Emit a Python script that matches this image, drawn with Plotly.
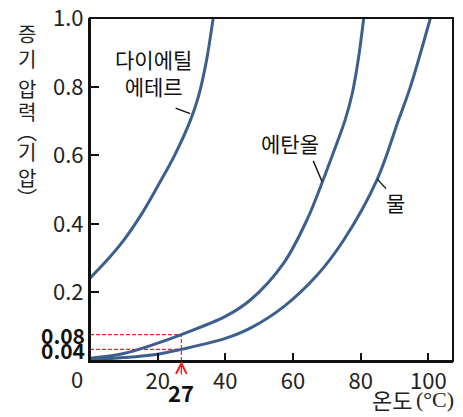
import plotly.graph_objects as go

# ---- data ----
ether_x = [0, 5, 10, 15, 20, 25, 29.7, 32.0, 34.3, 36.4]
ether_y = [0.242, 0.294, 0.353, 0.425, 0.51, 0.60, 0.703, 0.77, 0.87, 1.0]

ethanol_x = [0, 10, 20, 27, 40, 47.4, 57.2, 64.1, 68.9, 72.0, 75.4, 77.5, 79.3, 80.9]
ethanol_y = [0.008, 0.022, 0.052, 0.077, 0.13, 0.178, 0.285, 0.411, 0.528, 0.61, 0.703, 0.78, 0.88, 1.0]

water_x = [0, 10, 20, 27, 40, 47.4, 57.2, 67.1, 75, 84.8, 91.2, 94.7, 100.6]
water_y = [0.004, 0.01, 0.02, 0.034, 0.066, 0.096, 0.158, 0.25, 0.353, 0.528, 0.703, 0.80, 1.0]

x_ticks = [20, 40, 60, 80, 100]
y_ticks = [0.2, 0.4, 0.6, 0.8, 1.0]
y_ticklabels = ["0.2", "0.4", "0.6", "0.8", "1.0"]

mark_t = 27
mark_ethanol = 0.077
mark_water = 0.034
mark_labels = ["0.08", "0.04"]

series_names = ["다이에틸<br>에테르", "에탄올", "물"]
y_title_chars = ["증", "기", "압", "력", "︵", "기", "압", "︶"]
y_title_py = [33, 58, 88, 111, 131, 151, 177, 197]

# ---- style ----
FONT = "Noto Sans CJK KR"
CURVE = "#3c5f8e"
OFF = 8                      # default body margin of the html page
PL, PT = 90, 18              # plot-area top-left in page pixels
PW, PH = 363, 343            # plot-area size
W, H = 463 - OFF, 417 - OFF
L, T = PL - OFF, PT - OFF
R = W - L - PW
B = H - T - PH


def px(xp):
    return (xp - PL) / PW


def py(yp):
    return (PT + PH - yp) / PH


fig = go.Figure()
for xs, ys in [(ether_x, ether_y), (ethanol_x, ethanol_y), (water_x, water_y)]:
    fig.add_trace(go.Scatter(x=xs, y=ys, mode="lines",
                             line=dict(color=CURVE, width=3, shape="spline", smoothing=1.0),
                             showlegend=False, hoverinfo="skip"))

# frame
fig.add_shape(type="rect", xref="paper", yref="paper", x0=0, x1=1, y0=0, y1=1,
              line=dict(color="#111", width=2), layer="above")

# dashed guide lines
dash = dict(color="#ee2222", width=1.2, dash="4px,2px")
fig.add_shape(type="line", x0=0, x1=mark_t, y0=mark_ethanol, y1=mark_ethanol, line=dash, layer="below")
fig.add_shape(type="line", x0=0, x1=mark_t, y0=mark_water, y1=mark_water, line=dash, layer="below")
fig.add_shape(type="line", x0=mark_t, x1=mark_t, y0=0, y1=mark_ethanol, line=dash, layer="below")

# leader lines
lead = dict(color="#111", width=1.4)
fig.add_shape(type="line", x0=25.3, y0=0.738, x1=29.6, y1=0.722, line=lead)
fig.add_shape(type="line", x0=66.0, y0=0.584, x1=68.6, y1=0.523, line=lead)
fig.add_shape(type="line", x0=85.0, y0=0.530, x1=87.5, y1=0.503, line=lead)

ann = []
lab_font = dict(family=FONT, size=21, color="#111")
ann.append(dict(x=18.9, y=0.843, text=series_names[0], showarrow=False, font=lab_font, xref="x", yref="y"))
ann.append(dict(x=59.1, y=0.636, text=series_names[1], showarrow=False, font=lab_font, xref="x", yref="y"))
ann.append(dict(x=90.2, y=0.464, text=series_names[2], showarrow=False, font=lab_font, xref="x", yref="y"))

# bold value labels
bold_font = dict(family=FONT, size=21, color="#111")
for v, t, sh in zip([mark_ethanol, mark_water], mark_labels, [0, -1]):
    ann.append(dict(x=px(87), y=v, xref="paper", yref="y", text="<b>%s</b>" % t, yshift=sh,
                    showarrow=False, xanchor="right", yanchor="middle", font=bold_font))

# arrow + 27
ann.append(dict(x=mark_t, y=0, xref="x", yref="y", text="<b>%d</b>" % mark_t, showarrow=True,
                ax=0, ay=31, arrowhead=5, arrowsize=1.6, arrowwidth=1.3, arrowcolor="#ee2222",
                font=dict(family=FONT, size=22, color="#111"), standoff=0))

# origin 0
ann.append(dict(x=px(77), y=py(378), xref="paper", yref="paper", text="0",
                xanchor="center", yanchor="middle",
                showarrow=False, font=dict(family=FONT, size=22, color="#222")))

# y title (vertical stacked)
for ch, yp in zip(y_title_chars, y_title_py):
    ann.append(dict(x=px(27), y=py(yp), xref="paper", yref="paper", text=ch,
                    showarrow=False, font=dict(family=FONT, size=20, color="#222"),
                    xanchor="center", yanchor="middle"))

# x title
ann.append(dict(x=px(414), y=py(399), xref="paper", yref="paper", text="온도",
                showarrow=False, xanchor="right", yanchor="middle",
                font=dict(family=FONT, size=22, color="#222")))
ann.append(dict(x=px(414), y=py(399), xref="paper", yref="paper", text="(°C)",
                showarrow=False, xanchor="left", yanchor="middle",
                font=dict(family="Liberation Serif", size=22, color="#222")))

fig.update_layout(
    width=W, height=H, margin=dict(l=L, r=R, t=T, b=B, autoexpand=False),
    plot_bgcolor="white", paper_bgcolor="white",
    annotations=ann, showlegend=False,
    xaxis=dict(range=[0, 107.3], tickvals=x_ticks, ticks="inside", ticklen=8, tickwidth=2,
               tickcolor="#111", showline=True, linecolor="#111", linewidth=2,
               showgrid=False, zeroline=False, ticklabeloverflow="allow",
               tickfont=dict(family=FONT, size=22, color="#222")),
    yaxis=dict(range=[0, 1.001], tickvals=y_ticks, ticktext=y_ticklabels, ticks="inside", ticklen=9,
               tickwidth=2, tickcolor="#111", showline=True, linecolor="#111", linewidth=2,
               showgrid=False, zeroline=False, ticklabeloverflow="allow",
               tickfont=dict(family=FONT, size=22, color="#222")),
)

fig.write_html("out.html")
